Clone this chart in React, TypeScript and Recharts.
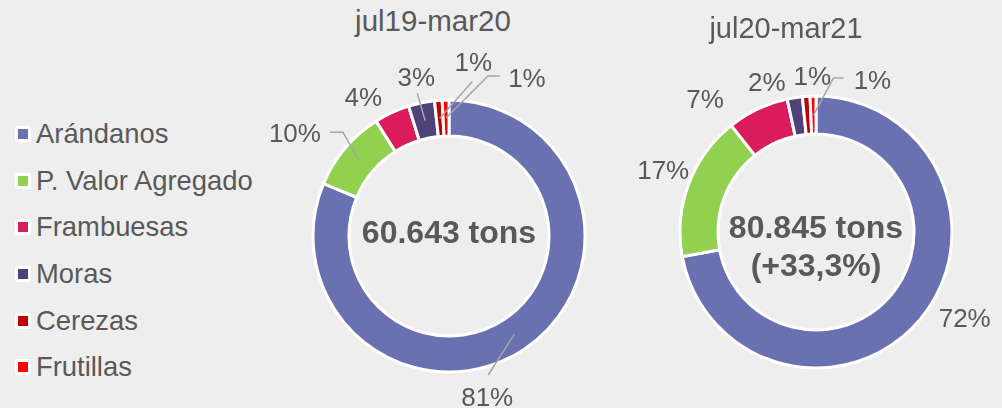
import { Pie, PieChart } from "recharts";

const categories = ["Arándanos", "P. Valor Agregado", "Frambuesas", "Moras", "Cerezas", "Frutillas"];
const colors = ["#6A71B1", "#92D050", "#DA1C5C", "#4F4279", "#C00000", "#FF0000"];

// participación (%) por temporada
const share1920 = [81.3, 9.7, 4.2, 3.1, 0.9, 0.8];
const share2021 = [72.1, 17.2, 7.3, 1.8, 0.9, 0.7];

const titles = ["jul19-mar20", "jul20-mar21"];
const totals = ["60.643 tons", "80.845 tons"];
const growth = "(+33,3%)";

const data1920 = categories.map((name, i) => ({ name, value: share1920[i], fill: colors[i] }));
const data2021 = categories.map((name, i) => ({ name, value: share2021[i], fill: colors[i] }));

const TEXT = "#595959";
const LINE = "#A6A6A6";
const FONT = "'Liberation Sans', Arial, sans-serif";
const RAD = Math.PI / 180;

// label nudges from the default outside position, and leader line points (relative to the label)
const nudges1920 = [[-51, 27], [-31, 1], [-18, 7], [0, -1], [37, -13], [82, 3]];
const leaders1920: (number[][] | null)[] = [
  [[1, -22]],
  [[48, -1], [35, -1]],
  null,
  [[1, 16]],
  [[-1, 19]],
  [[-39, -2], [-27, -2]],
];
const nudges2021 = [[25, -17], [-2, -6], [-42, 12], [-24, 9], [8, 5], [60, 9]];
const leaders2021: (number[][] | null)[] = [null, null, null, null, null, [[-39, -2], [-29, -2]]];

// vertical offsets of the centre text lines from the hole's centre
const centerOffsets1920 = [-4];
const centerOffsets2021 = [-5.5, 33];

const makeLabel =
  (nudges: number[][], leaders: (number[][] | null)[], center: string[], offsets: number[]) => (props: any) => {
    const { cx, cy, midAngle, innerRadius, outerRadius, percent, index } = props;
    const cos = Math.cos(-midAngle * RAD);
    const sin = Math.sin(-midAngle * RAD);
    const r = outerRadius + 25;
    const x = cx + r * cos + nudges[index][0];
    const y = cy + r * sin + nudges[index][1];
    const lead = leaders[index];
    let path = null;
    if (lead) {
      const rm = (innerRadius + outerRadius) / 2;
      const pts = [[cx + rm * cos, cy + rm * sin], ...lead.map((p) => [x + p[0], y + p[1]])];
      path = <polyline points={pts.map((p) => p.join(",")).join(" ")} fill="none" stroke={LINE} strokeWidth={1.5} />;
    }
    // the total goes in the hole, drawn once with the first slice
    return (
      <g key={`lbl-${index}`}>
        {path}
        <text x={x} y={y} textAnchor="middle" dominantBaseline="central" fill={TEXT} fontSize={26} fontFamily={FONT}>
          {`${Math.round(percent * 100)}%`}
        </text>
        {index === 0 &&
          center.map((l, i) => (
            <text
              key={`c-${i}`}
              x={cx}
              y={cy + offsets[i]}
              textAnchor="middle"
              dominantBaseline="central"
              fill={TEXT}
              fontSize={32}
              fontWeight="bold"
              fontFamily={FONT}
            >
              {l}
            </text>
          ))}
      </g>
    );
  };

const LegendBox = () => (
  <div style={{ position: "absolute", left: 15, top: 111, fontFamily: FONT }}>
    {categories.map((name, i) => (
      <div key={name} style={{ display: "flex", alignItems: "center", height: 46.6 }}>
        <span
          style={{
            width: 10,
            height: 10,
            background: colors[i],
            border: "3px solid #fff",
            borderRadius: 2,
            marginRight: 5,
          }}
        />
        <span style={{ fontSize: 27.4, color: TEXT, whiteSpace: "nowrap" }}>{name}</span>
      </div>
    ))}
  </div>
);

export default function App() {
  return (
    <div style={{ position: "fixed", left: 0, top: 0, width: 1002, height: 408, background: "#EEEEEE" }}>
      <div style={{ position: "absolute", left: 0, width: 866, top: 4, textAlign: "center", fontFamily: FONT, fontSize: 29.5, color: TEXT }}>
        {titles[0]}
      </div>
      <div style={{ position: "absolute", left: 0, width: 1572, top: 12, textAlign: "center", fontFamily: FONT, fontSize: 29, color: TEXT }}>
        {titles[1]}
      </div>
      <LegendBox />
      <div style={{ position: "absolute", left: 0, top: 0 }}>
        <PieChart width={1002} height={408} margin={{ top: 0, right: 0, bottom: 0, left: 0 }}>
          <Pie
            data={data1920}
            dataKey="value"
            nameKey="name"
            cx={449}
            cy={236}
            innerRadius={100}
            outerRadius={136}
            startAngle={90}
            endAngle={-270}
            stroke="#FFFFFF"
            strokeWidth={3}
            label={makeLabel(nudges1920, leaders1920, [totals[0]], centerOffsets1920)}
            labelLine={false}
            isAnimationActive={false}
          />
          <Pie
            data={data2021}
            dataKey="value"
            nameKey="name"
            cx={816}
            cy={232}
            innerRadius={98}
            outerRadius={136}
            startAngle={90}
            endAngle={-270}
            stroke="#FFFFFF"
            strokeWidth={3}
            label={makeLabel(nudges2021, leaders2021, [totals[1], growth], centerOffsets2021)}
            labelLine={false}
            isAnimationActive={false}
          />
        </PieChart>
      </div>
    </div>
  );
}
